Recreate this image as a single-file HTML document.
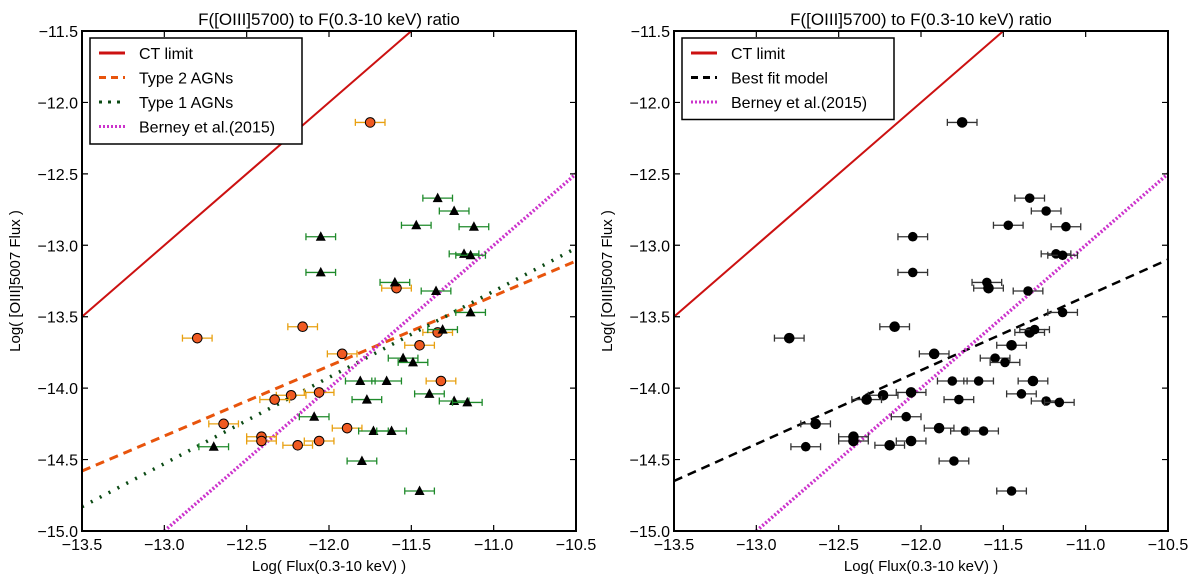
<!DOCTYPE html>
<html><head><meta charset="utf-8"><style>
html,body{margin:0;padding:0;background:#fff;}
svg{display:block;font-family:"Liberation Sans",sans-serif;}
</style></head><body>
<svg id="fig" width="1200" height="584" viewBox="0 0 1200 584"></svg>
<script>
// ---- data ----
const xTicks = [-13.5, -13.0, -12.5, -12.0, -11.5, -11.0, -10.5];
const yTicks = [-11.5, -12.0, -12.5, -13.0, -13.5, -14.0, -14.5, -15.0];
const type2X = [-11.75, -12.80, -12.16, -11.59, -11.92, -11.34, -11.45, -11.32, -12.06, -12.23, -12.33, -12.64, -12.41, -12.41, -12.19, -12.06, -11.89];
const type2Y = [-12.14, -13.65, -13.57, -13.30, -13.76, -13.61, -13.70, -13.95, -14.03, -14.05, -14.08, -14.25, -14.34, -14.37, -14.40, -14.37, -14.28];
const type1X = [-11.34, -11.24, -11.47, -11.12, -12.05, -11.18, -11.14, -12.05, -11.60, -11.35, -11.14, -11.31, -11.55, -11.49, -11.81, -11.65, -11.39, -11.77, -11.24, -11.16, -12.09, -11.73, -11.62, -12.70, -11.80, -11.45];
const type1Y = [-12.67, -12.76, -12.86, -12.87, -12.94, -13.06, -13.07, -13.19, -13.26, -13.32, -13.47, -13.59, -13.79, -13.82, -13.95, -13.95, -14.04, -14.08, -14.09, -14.10, -14.20, -14.30, -14.30, -14.41, -14.51, -14.72];
const xErr = 0.09;
const ctLine = [[-13.5, -13.5], [-11.5, -11.5]];
const berneyLine = [[-13.0, -15.0], [-10.5, -12.5]];
const type2Line = [[-13.5, -14.58], [-10.5, -13.11]];
const type1Line = [[-13.5, -14.83], [-10.5, -13.02]];
const bestFitLine = [[-13.5, -14.65], [-10.5, -13.10]];

const NS = "http://www.w3.org/2000/svg";
const svg = document.getElementById('fig');
function mk(tag, attrs, parent) {
  const e = document.createElementNS(NS, tag);
  for (const k in attrs) e.setAttribute(k, attrs[k]);
  (parent || svg).appendChild(e);
  return e;
}
function panel(x0, name, left) {
  const W = 494, T = 31, B = 531;
  const sx = v => x0 + (v + 13.5) / 3 * W;
  const sy = v => T + (-11.5 - v) / 3.5 * (B - T);
  const g = mk('g', {});
  
  
  const clipId = 'clip' + x0;
  const cp = mk('clipPath', {id: clipId}, g);
  mk('rect', {x: x0, y: T, width: W, height: B - T}, cp);
  const plot = mk('g', {'clip-path': 'url(#' + clipId + ')'}, g);
  
  
  function line(pts, color, w, dash, nm) {
    const l = mk('line', {x1: sx(pts[0][0]), y1: sy(pts[0][1]), x2: sx(pts[1][0]), y2: sy(pts[1][1]), stroke: color, 'stroke-width': w, 'stroke-dasharray': dash || 'none'}, plot);
    
    
  }
  line(ctLine, '#cc1111', 2, null, 'ct-limit-line');
  if (left) {
    line(type2Line, '#e8540c', 3, '9,6', 'type2-fit-line');
    line(type1Line, '#0b4a14', 3.5, '2,8', 'type1-fit-line');
  } else {
    line(bestFitLine, '#000', 2.5, '9,6', 'best-fit-line');
  }
  line(berneyLine, '#cc33cc', 3.5, '2,2', 'berney-line');
  function errbar(x, y, col) {
    const y0 = sy(y), xa = sx(x - xErr), xb = sx(x + xErr);
    const e = mk('path', {d: `M${xa},${y0}H${xb}M${xa},${y0-3.5}V${y0+3.5}M${xb},${y0-3.5}V${y0+3.5}`, stroke: col, 'stroke-width': 1.3, fill: 'none'}, plot);
    
    
  }
  type2X.forEach((x, i) => {
    errbar(x, type2Y[i], left ? '#e8a010' : '#333');
    const c = mk('circle', {cx: sx(x), cy: sy(type2Y[i]), r: 4.8, fill: left ? '#f05a22' : '#000', stroke: '#000', 'stroke-width': 1}, plot);
    
    
  });
  type1X.forEach((x, i) => {
    errbar(x, type1Y[i], left ? '#1e8a2a' : '#333');
    const cx = sx(x), cy = sy(type1Y[i]);
    let m;
    if (left) m = mk('path', {d: `M${cx},${cy-5.5}L${cx+5},${cy+4}L${cx-5},${cy+4}Z`, fill: '#000'}, plot);
    else m = mk('circle', {cx: cx, cy: cy, r: 4.8, fill: '#000'}, plot);
    
    
  });
  // frame
  const fr = mk('rect', {x: x0, y: T, width: W, height: B - T, fill: 'none', stroke: '#000', 'stroke-width': 2}, g);
  
  
  xTicks.forEach(v => {
    const X = sx(v);
    mk('path', {d: `M${X},${B}v-6M${X},${T}v6`, stroke: '#000', 'stroke-width': 1.2}, g);
    const t = mk('text', {x: X, y: B + 19, 'font-size': 16, 'text-anchor': 'middle'}, g);
    t.textContent = v.toFixed(1).replace('-', '\u2212');
    
    
  });
  yTicks.forEach(v => {
    const Y = sy(v);
    mk('path', {d: `M${x0},${Y}h6M${x0+W},${Y}h-6`, stroke: '#000', 'stroke-width': 1.2}, g);
    const t = mk('text', {x: x0 - 4, y: Y + 6, 'font-size': 16, 'text-anchor': 'end'}, g);
    t.textContent = v.toFixed(1).replace('-', '\u2212');
    
    
  });
  const ti = mk('text', {x: x0 + W / 2, y: 25, 'font-size': 17, 'text-anchor': 'middle'}, g);
  ti.textContent = 'F([OIII]5700) to F(0.3-10 keV) ratio';
  
  
  const xl = mk('text', {x: x0 + W / 2, y: 571, 'font-size': 15, 'text-anchor': 'middle'}, g);
  xl.textContent = 'Log( Flux(0.3-10 keV) )';
  
  
  const yl = mk('text', {x: 0, y: 0, 'font-size': 15, 'text-anchor': 'middle', transform: `translate(${x0 - 62},${(T + B) / 2}) rotate(-90)`}, g);
  yl.textContent = 'Log( [OIII]5007 Flux )';
  
  
  // legend
  const lg = mk('g', {}, g);
  
  
  const entries = left
    ? [['CT limit', '#cc1111', 'none', 3], ['Type 2 AGNs', '#e8540c', '7,5', 3], ['Type 1 AGNs', '#0b4a14', '3,6', 3], ['Berney et al.(2015)', '#cc33cc', '2,2', 3]]
    : [['CT limit', '#cc1111', 'none', 3], ['Best fit model', '#000', '7,5', 3], ['Berney et al.(2015)', '#cc33cc', '2,2', 3]];
  const lw = left ? 212 : 212;
  mk('rect', {x: x0 + 8, y: 38, width: lw, height: entries.length * 24.5 + 8, fill: '#fff', stroke: '#000', 'stroke-width': 1.5}, lg);
  entries.forEach((en, i) => {
    const y = 53 + i * 24.5;
    mk('line', {x1: x0 + 17, x2: x0 + 43, y1: y, y2: y, stroke: en[1], 'stroke-width': en[3], 'stroke-dasharray': en[2]}, lg);
    const t = mk('text', {x: x0 + 57, y: y + 6, 'font-size': 16}, lg);
    t.textContent = en[0];
    
    
  });
}
panel(82, 'left-panel', true);
panel(674, 'right-panel', false);
</script>
</body></html>
